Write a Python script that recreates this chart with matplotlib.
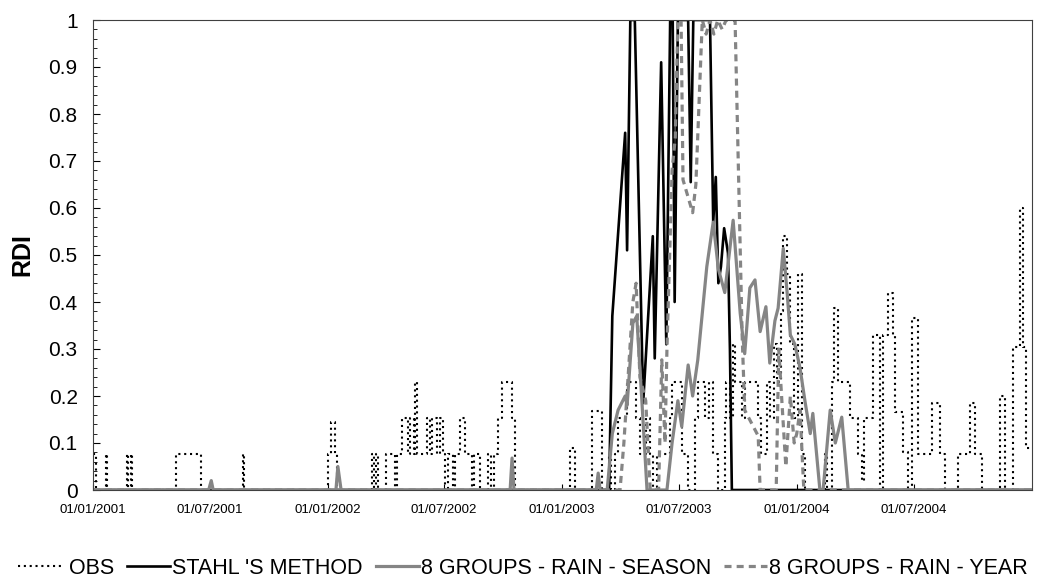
import numpy as np
import matplotlib
matplotlib.use('Agg')
from matplotlib import pyplot as plt
import matplotlib.dates as mdates

plt.rcParams['font.family'] = ['Liberation Sans', 'DejaVu Sans']

# days counted from 01/01/2001
START = np.datetime64('2001-01-01')

# observed RDI (step values, each holds until the next day in the list)
obs_day = [0, 5, 20, 22, 53, 55, 59, 61, 129, 168, 233, 235,
           366, 371, 376, 380, 434, 437, 440, 443,
           456, 470, 473, 481, 490, 493, 499, 501, 504, 520, 525, 528, 536, 540, 545, 548,
           552, 560, 563, 571, 579, 590, 593, 602, 615, 620, 624, 630, 636, 652, 657, 742, 750, 776, 792,
           803, 806, 812, 817, 831, 845, 851, 860, 867, 872, 878, 898, 901, 917, 925,
           937, 942, 952, 958, 965, 972, 983, 985, 991, 996, 999, 1010, 1015, 1035, 1040,
           1049, 1053, 1060, 1064, 1070, 1074, 1080, 1085, 1090, 1097, 1103, 1108,
           1139, 1142, 1150, 1153, 1159, 1178, 1190, 1197, 1199, 1214, 1225, 1229, 1237, 1245, 1248, 1260, 1268,
           1274, 1284, 1305, 1318, 1325, 1346, 1365, 1372, 1383, 1411, 1419, 1432, 1442, 1447, 1452, 1461]
obs_rdi = [0.077, 0, 0.077, 0, 0.077, 0, 0.077, 0, 0.077, 0, 0.077, 0,
           0.077, 0.145, 0.077, 0, 0.077, 0, 0.077, 0,
           0.077, 0, 0.077, 0.154, 0.077, 0.154, 0.077, 0.23, 0.077, 0.154, 0.077, 0.154, 0.077, 0.154, 0.077, 0,
           0.077, 0, 0.077, 0.154, 0.077, 0, 0.077, 0, 0.077, 0, 0.077, 0.154, 0.23, 0.154, 0, 0.09, 0, 0.168, 0,
           0.077, 0, 0.077, 0.154, 0.23, 0.154, 0.077, 0.154, 0.077, 0, 0.077, 0.154, 0.23, 0.077, 0,
           0.154, 0.23, 0.154, 0.23, 0.077, 0, 0.154, 0.23, 0.154, 0.31, 0.23, 0.154, 0.23, 0.154, 0.077,
           0.23, 0.154, 0.31, 0.23, 0.38, 0.54, 0.46, 0.31, 0.154, 0.46, 0.077, 0,
           0.077, 0, 0.23, 0.387, 0.23, 0.154, 0.077, 0.02, 0.154, 0.33, 0, 0.33, 0.42, 0.33, 0.166, 0.08, 0,
           0.366, 0.077, 0.185, 0.077, 0, 0.077, 0.185, 0.077, 0, 0.2, 0, 0.305, 0.6, 0.305, 0.09, 0.09]

stahl_day = [0, 803, 808, 828, 831, 836, 843, 856, 871, 874, 884, 892, 898, 902, 905,
             910, 926, 930, 934, 960, 965, 969, 973, 977, 982, 988, 991, 994, 1461]
stahl_rdi = [0, 0, 0.37, 0.76, 0.51, 1.0, 1.0, 0.185, 0.54, 0.28, 0.91, 0.31, 1.0, 1.0, 0.40,
             1.0, 1.0, 0.655, 1.0, 1.0, 0.57, 0.666, 0.44, 0.475, 0.557, 0.504, 0.3, 0, 0]

season_day = [0, 180, 184, 187, 378, 381, 386, 649, 652, 655, 783, 786, 789, 800, 808, 817, 828, 831,
              840, 846, 854, 862, 893, 901, 910, 916, 926, 933, 941, 955, 965, 973, 983, 996, 1007,
              1014, 1022, 1030, 1038, 1047, 1053, 1061, 1066, 1074, 1080, 1085, 1092, 1100, 1108,
              1116, 1120, 1131, 1136, 1147, 1155, 1165, 1175, 1461]
season_rdi = [0, 0, 0.02, 0, 0, 0.05, 0, 0, 0.068, 0, 0, 0.036, 0, 0, 0.12, 0.17, 0.2, 0.18,
              0.355, 0.37, 0.19, 0, 0, 0.1, 0.19, 0.135, 0.266, 0.2, 0.277, 0.475, 0.57, 0.47, 0.42, 0.574, 0.376,
              0.29, 0.43, 0.447, 0.337, 0.39, 0.27, 0.36, 0.387, 0.514, 0.42, 0.33, 0.31, 0.26, 0.187,
              0.12, 0.163, 0, 0, 0.17, 0.1, 0.155, 0, 0]

year_day = [0, 820, 826, 833, 840, 845, 851, 860, 867, 880, 885, 890, 893, 901, 906, 910, 915, 918,
            933, 938, 948, 954, 960, 966, 972, 979, 985, 999, 1010, 1014, 1035, 1038, 1063, 1067,
            1072, 1078, 1085, 1091, 1095, 1100, 1106, 1461]
year_rdi = [0, 0, 0.1, 0.25, 0.40, 0.44, 0.24, 0.19, 0, 0, 0.277, 0.10, 0.3, 0.68, 0.75, 1.0, 1.0, 0.66,
            0.59, 0.65, 1.0, 0.97, 1.0, 0.97, 1.0, 0.98, 1.0, 1.0, 0.33, 0.17, 0.115, 0, 0, 0.30,
            0.185, 0.05, 0.2, 0.1, 0.12, 0.17, 0, 0]

tick_dates = ['2001-01-01', '2001-07-01', '2002-01-01', '2002-07-01',
              '2003-01-01', '2003-07-01', '2004-01-01', '2004-07-01']


def to_dates(days):
    return START + np.array(days).astype('timedelta64[D]')


GREY = '#858585'

fig = plt.figure(figsize=(10.46, 5.85), dpi=100)
ax = fig.add_axes([93/1046, 1-490/585, 939/1046, 470/585])

ax.plot(to_dates(obs_day), obs_rdi, drawstyle='steps-post', color='black', lw=1.5,
        linestyle=(0, (1.0, 1.8)), label=' OBS')
ax.plot(to_dates(stahl_day), stahl_rdi, color='black', lw=1.9, label="STAHL 'S METHOD")
ax.plot(to_dates(season_day), season_rdi, color=GREY, lw=2.3, label='8 GROUPS - RAIN - SEASON')
ax.plot(to_dates(year_day), year_rdi, color=GREY, lw=2.3, linestyle=(0, (2.2, 1.6)),
        label='8 GROUPS - RAIN - YEAR')

ax.set_xlim(np.datetime64('2001-01-01'), np.datetime64('2005-01-01'))
ax.set_ylim(0, 1)

ax.set_xticks(np.array(tick_dates, dtype='datetime64[D]'))
ax.xaxis.set_major_formatter(mdates.DateFormatter('%d/%m/%Y'))
ax.set_yticks(np.arange(0, 1.01, 0.1))
ax.set_yticklabels(['0', '0.1', '0.2', '0.3', '0.4', '0.5', '0.6', '0.7', '0.8', '0.9', '1'])
ax.set_yticks(np.arange(0, 1.001, 0.02), minor=True)

ax.tick_params(axis='x', direction='in', length=4, labelsize=9.5, pad=10)
ax.tick_params(axis='y', which='major', direction='in', length=5, labelsize=15, pad=11)
ax.tick_params(axis='y', which='minor', direction='in', length=3)
for s in ax.spines.values():
    s.set_linewidth(0.8)
    s.set_color('#404040')

ax.set_ylabel('RDI', fontsize=18, fontweight='bold', labelpad=10)

fig.legend(loc='center', bbox_to_anchor=(0.5, 1-568/585), ncol=4, frameon=False,
           fontsize=15.5, handlelength=2.0, handletextpad=0.1, columnspacing=0.6)

plt.savefig('out.png', dpi=100)
